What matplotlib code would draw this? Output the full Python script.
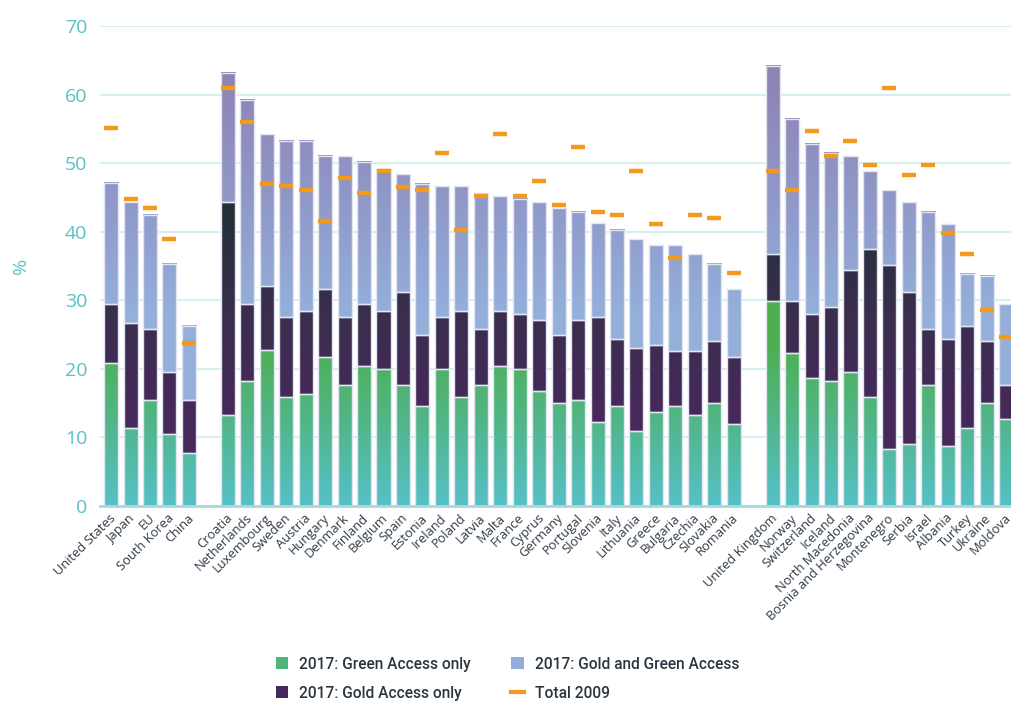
import numpy as np
import matplotlib
matplotlib.use('Agg')
import matplotlib.pyplot as plt
from matplotlib.colors import LinearSegmentedColormap, Normalize
from matplotlib.patches import Patch
from matplotlib.lines import Line2D
from matplotlib.transforms import ScaledTranslation

countries = ["United States", "Japan", "EU", "South Korea", "China",
             "Croatia", "Netherlands", "Luxembourg", "Sweden", "Austria", "Hungary",
             "Denmark", "Finland", "Belgium", "Spain", "Estonia", "Ireland", "Poland",
             "Latvia", "Malta", "France", "Cyprus", "Germany", "Portugal", "Slovenia",
             "Italy", "Lithuania", "Greece", "Bulgaria", "Czechia", "Slovakia", "Romania",
             "United Kingdom", "Norway", "Switzerland", "Iceland", "North Macedonia",
             "Bosnia and Herzegovina", "Montenegro", "Serbia", "Israel", "Albania",
             "Turkey", "Ukraine", "Moldova"]
group_sizes = [5, 27, 13]

green_only = [20.9, 11.4, 15.5, 10.5, 7.8,
              13.2, 18.2, 22.7, 15.9, 16.4, 21.8, 17.7, 20.4, 20.0, 17.7, 14.6, 20.0, 15.9,
              17.7, 20.4, 20.0, 16.8, 15.0, 15.5, 12.3, 14.6, 10.9, 13.7, 14.6, 13.2, 15.0, 11.9,
              29.9, 22.3, 18.6, 18.2, 19.5, 15.9, 8.3, 9.1, 17.7, 8.7, 11.4, 15.0, 12.7]
gold_only = [8.5, 15.3, 10.3, 9.0, 7.7,
             31.1, 11.2, 9.4, 11.7, 12.1, 9.8, 9.9, 9.0, 8.5, 13.5, 10.3, 7.6, 12.6,
             8.1, 8.1, 8.0, 10.3, 9.9, 11.6, 15.3, 9.8, 12.2, 9.8, 8.0, 9.4, 9.0, 9.9,
             6.8, 7.6, 9.4, 10.8, 14.9, 21.6, 26.9, 22.1, 8.1, 15.7, 14.8, 9.0, 5.0]
gold_green = [17.7, 17.6, 16.7, 15.8, 10.8,
              18.9, 29.8, 22.1, 25.7, 24.8, 19.4, 23.4, 20.8, 20.7, 17.2, 22.1, 19.0, 18.1,
              19.8, 16.7, 16.8, 17.2, 18.5, 15.8, 13.6, 15.9, 15.8, 14.5, 15.4, 14.1, 11.3, 9.9,
              27.5, 26.6, 24.8, 22.5, 16.6, 11.3, 10.9, 13.1, 17.1, 16.7, 7.7, 9.5, 11.7]
total_2009 = [55.1, 44.8, 43.5, 39.0, 23.7,
              61.0, 56.0, 47.0, 46.6, 46.1, 41.6, 47.9, 45.6, 48.9, 46.5, 46.1, 51.5, 40.3,
              45.2, 54.3, 45.2, 47.4, 43.9, 52.4, 42.9, 42.4, 48.9, 41.1, 36.2, 42.4, 42.0, 34.0,
              48.9, 46.1, 54.7, 51.1, 53.2, 49.7, 61.0, 48.3, 49.7, 39.8, 36.7, 28.6, 24.6]

# slot positions with one empty slot between groups
pos = []
slot = 0
for g in group_sizes:
    for _ in range(g):
        pos.append(slot)
        slot += 1
    slot += 1
pos = np.array(pos, dtype=float)

green_arr = np.array(green_only)
gold_arr = np.array(gold_only)
gg_arr = np.array(gold_green)

fig = plt.figure(figsize=(10.12, 7.05), dpi=100)
ax = fig.add_axes([100 / 1012, 1 - 506 / 705, 912 / 1012, 480 / 705])

cm_green = LinearSegmentedColormap.from_list("g", ["#56C0C6", "#52B68A", "#4CAF50"])
cm_gold = LinearSegmentedColormap.from_list("d", ["#46295A", "#3A2E4D", "#243039"])
cm_gg = LinearSegmentedColormap.from_list("b", ["#94AFDA", "#9098C8", "#8E84B5"])
series = [
    (green_arr, np.zeros_like(green_arr), cm_green, Normalize(0, 24)),
    (gold_arr, green_arr, cm_gold, Normalize(14, 42)),
    (gg_arr, green_arr + gold_arr, cm_gg, Normalize(28, 62)),
]

width = 0.72
for vals, bottoms, cmap, norm in series:
    bars = ax.bar(pos, vals, width=width, bottom=bottoms, facecolor='none',
                  edgecolor='#E2E5F2', linewidth=1.0, zorder=3)
    for p in bars.patches:
        x0, w, y0, h = p.get_x(), p.get_width(), p.get_y(), p.get_height()
        grad = np.linspace(y0, y0 + h, 128).reshape(-1, 1)
        ax.imshow(grad, cmap=cmap, norm=norm, extent=(x0, x0 + w, y0, y0 + h),
                  origin='lower', aspect='auto', interpolation='bilinear', zorder=2)

ax.plot(pos, total_2009, linestyle='none', marker='_', markersize=10.5,
        markeredgewidth=3.2, color='#F39A1E', zorder=4)

ax.set_xlim(-0.57, 46.3)
ax.set_ylim(0, 70)
ax.set_yticks(np.arange(0, 71, 10))
ax.yaxis.grid(True, color='#D8EFF1', linewidth=1.5)
ax.set_axisbelow(True)
for s in ['top', 'right', 'left']:
    ax.spines[s].set_visible(False)
ax.spines['bottom'].set_color('#A6DADE')
ax.spines['bottom'].set_linewidth(2)
ax.spines['bottom'].set_zorder(5)

ax.tick_params(axis='y', length=0, pad=9, labelsize=14, labelcolor='#5BC0C4')
ax.tick_params(axis='x', length=0, pad=4)
ax.set_xticks(pos)
ax.set_xticklabels(countries, rotation=45, ha='right', rotation_mode='anchor',
                   fontsize=9.3, color='#2E3A46')
shift = ScaledTranslation(-2 / 100, 0, fig.dpi_scale_trans)
for lab in ax.get_yticklabels():
    lab.set_family('Open Sans')
for lab in ax.get_xticklabels():
    lab.set_family('Open Sans')
    lab.set_transform(lab.get_transform() + shift)

ax.set_ylabel('%', color='#5BC0C4', fontsize=14, family='Open Sans')
ax.yaxis.set_label_coords(-(100 - 30) / 912, 0.5)

handles = [
    Patch(facecolor='#50B47F', edgecolor='none', label='2017: Green Access only'),
    Patch(facecolor='#46295A', edgecolor='none', label='2017: Gold Access only'),
    Patch(facecolor='#93ACD8', edgecolor='none', label='2017: Gold and Green Access'),
    Line2D([], [], color='#F39A1E', linewidth=3, label='Total 2009'),
]
leg = fig.legend(handles=handles, loc='upper left', bbox_to_anchor=(268 / 1012, 1 - 649 / 705),
                 ncol=2, frameon=False, borderpad=0, handlelength=0.8, handleheight=0.8,
                 handletextpad=0.7, columnspacing=2.6, labelspacing=0.9,
                 prop={'family': 'Roboto', 'size': 11.2, 'weight': 'medium'})
for t in leg.get_texts():
    t.set_color('#2B3640')

fig.savefig('out.png', dpi=100)
